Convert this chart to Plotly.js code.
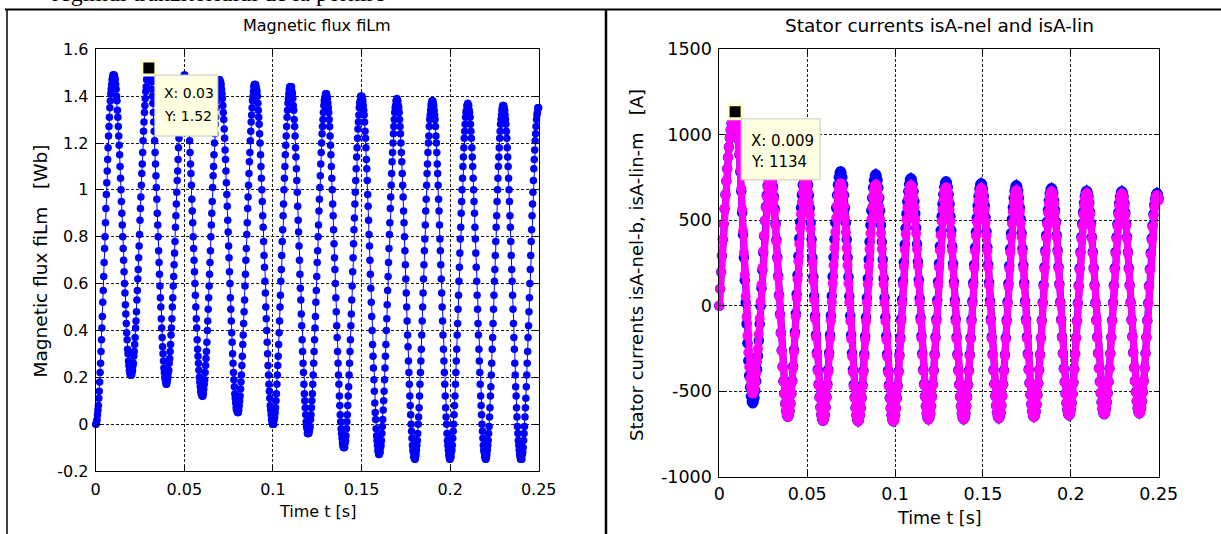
<!DOCTYPE html>
<html>
<head>
<meta charset="utf-8">
<script src="https://cdn.plot.ly/plotly-3.0.1.min.js"></script>
<style>
html, body { margin: 0; padding: 0; background: #fff; }
#fig { width: 1221px; height: 534px; }
</style>
</head>
<body>
<div id="fig"></div>
<script>
// Sampling steps of the simulated signals
const fluxDt = 0.00025;   // s
const currDt = 0.0005;    // s

// Magnetic flux fiLm [Wb], one row per half period
const fluxLm = [
  0, 0, 0.01, 0.02, 0.04, 0.06, 0.08, 0.11, 0.14, 0.18, 0.22, 0.26, 0.31, 0.36, 0.41, 0.46, 0.52, 0.57, 0.63, 0.69, 0.75, 0.80, 0.86, 0.92, 0.98, 1.03, 1.08, 1.13, 1.18, 1.23, 1.27, 1.31, 1.35, 1.38, 1.41, 1.43, 1.45, 1.47, 1.48, 1.49, 1.49,
  1.49, 1.49, 1.48, 1.47, 1.45, 1.43, 1.40, 1.38, 1.34, 1.31, 1.27, 1.23, 1.19, 1.15, 1.10, 1.05, 1.00, 0.95, 0.90, 0.85, 0.80, 0.75, 0.70, 0.65, 0.60, 0.56, 0.51, 0.47, 0.43, 0.39, 0.36, 0.32, 0.30, 0.27, 0.25, 0.23, 0.22, 0.21, 0.21, 0.21,
  0.21, 0.22, 0.23, 0.25, 0.26, 0.29, 0.31, 0.34, 0.37, 0.41, 0.44, 0.48, 0.53, 0.57, 0.62, 0.66, 0.71, 0.76, 0.81, 0.87, 0.92, 0.97, 1.02, 1.07, 1.11, 1.16, 1.21, 1.25, 1.29, 1.33, 1.36, 1.39, 1.42, 1.44, 1.47, 1.48, 1.50, 1.51, 1.51, 1.52,
  1.52, 1.51, 1.51, 1.50, 1.48, 1.46, 1.43, 1.40, 1.37, 1.33, 1.29, 1.25, 1.21, 1.16, 1.11, 1.06, 1.01, 0.96, 0.90, 0.85, 0.80, 0.74, 0.69, 0.64, 0.59, 0.54, 0.50, 0.45, 0.41, 0.37, 0.33, 0.30, 0.27, 0.24, 0.22, 0.20, 0.19, 0.18, 0.17, 0.17,
  0.18, 0.19, 0.20, 0.22, 0.23, 0.26, 0.28, 0.31, 0.34, 0.38, 0.41, 0.45, 0.50, 0.54, 0.59, 0.63, 0.68, 0.73, 0.78, 0.84, 0.89, 0.94, 0.99, 1.04, 1.08, 1.13, 1.18, 1.22, 1.26, 1.30, 1.33, 1.36, 1.39, 1.41, 1.44, 1.45, 1.47, 1.48, 1.48, 1.49,
  1.49, 1.48, 1.47, 1.45, 1.43, 1.41, 1.39, 1.36, 1.32, 1.29, 1.25, 1.21, 1.16, 1.11, 1.07, 1.02, 0.96, 0.91, 0.86, 0.80, 0.75, 0.70, 0.65, 0.60, 0.55, 0.50, 0.45, 0.41, 0.36, 0.32, 0.29, 0.26, 0.23, 0.20, 0.18, 0.16, 0.14, 0.13, 0.13, 0.12,
  0.12, 0.12, 0.13, 0.15, 0.17, 0.19, 0.22, 0.25, 0.28, 0.31, 0.35, 0.40, 0.44, 0.49, 0.54, 0.59, 0.64, 0.69, 0.74, 0.80, 0.85, 0.90, 0.95, 1.01, 1.06, 1.10, 1.15, 1.20, 1.24, 1.28, 1.31, 1.35, 1.38, 1.40, 1.42, 1.44, 1.46, 1.47, 1.47, 1.47,
  1.46, 1.46, 1.45, 1.43, 1.41, 1.39, 1.36, 1.33, 1.30, 1.26, 1.22, 1.17, 1.13, 1.08, 1.03, 0.98, 0.93, 0.87, 0.82, 0.76, 0.71, 0.65, 0.60, 0.54, 0.49, 0.44, 0.39, 0.35, 0.30, 0.26, 0.22, 0.19, 0.16, 0.13, 0.11, 0.09, 0.07, 0.06, 0.06, 0.05,
  0.05, 0.05, 0.06, 0.08, 0.10, 0.12, 0.15, 0.18, 0.21, 0.25, 0.29, 0.34, 0.38, 0.43, 0.48, 0.53, 0.59, 0.64, 0.70, 0.75, 0.81, 0.86, 0.92, 0.97, 1.02, 1.07, 1.12, 1.16, 1.21, 1.25, 1.29, 1.32, 1.35, 1.38, 1.40, 1.42, 1.44, 1.45, 1.45, 1.45,
  1.45, 1.44, 1.43, 1.42, 1.40, 1.37, 1.34, 1.31, 1.28, 1.24, 1.20, 1.15, 1.10, 1.05, 1.00, 0.95, 0.89, 0.84, 0.78, 0.72, 0.67, 0.61, 0.56, 0.50, 0.45, 0.40, 0.35, 0.30, 0.25, 0.21, 0.17, 0.14, 0.11, 0.08, 0.06, 0.04, 0.02, 0.01, 0.00, 0.00,
  0.00, 0.00, 0.02, 0.03, 0.05, 0.07, 0.10, 0.13, 0.17, 0.21, 0.25, 0.29, 0.34, 0.39, 0.44, 0.50, 0.55, 0.61, 0.66, 0.72, 0.78, 0.83, 0.89, 0.94, 1.00, 1.05, 1.10, 1.15, 1.19, 1.23, 1.27, 1.31, 1.34, 1.37, 1.39, 1.41, 1.43, 1.44, 1.44, 1.44,
  1.44, 1.44, 1.42, 1.41, 1.39, 1.36, 1.34, 1.30, 1.27, 1.23, 1.18, 1.14, 1.09, 1.04, 0.99, 0.93, 0.87, 0.82, 0.76, 0.70, 0.64, 0.58, 0.53, 0.47, 0.42, 0.36, 0.31, 0.26, 0.22, 0.17, 0.13, 0.10, 0.07, 0.04, 0.01, -0.01, -0.02, -0.04, -0.04, -0.04,
  -0.04, -0.03, -0.02, -0.01, 0.02, 0.04, 0.07, 0.10, 0.13, 0.17, 0.21, 0.26, 0.31, 0.36, 0.41, 0.46, 0.52, 0.57, 0.63, 0.69, 0.74, 0.80, 0.85, 0.91, 0.96, 1.01, 1.06, 1.11, 1.16, 1.20, 1.24, 1.27, 1.30, 1.33, 1.36, 1.38, 1.39, 1.40, 1.41, 1.41,
  1.41, 1.40, 1.39, 1.37, 1.35, 1.33, 1.30, 1.27, 1.23, 1.19, 1.15, 1.10, 1.05, 1.00, 0.94, 0.89, 0.83, 0.77, 0.71, 0.66, 0.60, 0.54, 0.48, 0.42, 0.37, 0.31, 0.26, 0.21, 0.17, 0.12, 0.08, 0.04, 0.01, -0.02, -0.04, -0.06, -0.08, -0.09, -0.10, -0.10,
  -0.10, -0.10, -0.08, -0.07, -0.05, -0.02, 0.01, 0.04, 0.08, 0.12, 0.16, 0.21, 0.26, 0.31, 0.36, 0.42, 0.47, 0.53, 0.59, 0.65, 0.71, 0.77, 0.83, 0.88, 0.94, 0.99, 1.04, 1.09, 1.14, 1.18, 1.22, 1.26, 1.29, 1.32, 1.35, 1.37, 1.38, 1.40, 1.40, 1.40,
  1.40, 1.39, 1.38, 1.36, 1.34, 1.32, 1.29, 1.25, 1.22, 1.18, 1.13, 1.09, 1.04, 0.98, 0.93, 0.87, 0.81, 0.76, 0.70, 0.64, 0.58, 0.52, 0.46, 0.40, 0.34, 0.29, 0.24, 0.19, 0.14, 0.09, 0.05, 0.02, -0.02, -0.05, -0.07, -0.09, -0.11, -0.12, -0.13, -0.13,
  -0.12, -0.12, -0.10, -0.09, -0.07, -0.04, -0.01, 0.02, 0.06, 0.10, 0.14, 0.19, 0.24, 0.29, 0.34, 0.40, 0.45, 0.51, 0.57, 0.63, 0.69, 0.75, 0.81, 0.86, 0.92, 0.97, 1.02, 1.07, 1.12, 1.16, 1.20, 1.24, 1.27, 1.30, 1.33, 1.35, 1.36, 1.38, 1.38, 1.39,
  1.38, 1.38, 1.36, 1.35, 1.33, 1.30, 1.27, 1.24, 1.20, 1.16, 1.12, 1.07, 1.02, 0.97, 0.91, 0.86, 0.80, 0.74, 0.68, 0.62, 0.56, 0.50, 0.44, 0.38, 0.33, 0.27, 0.22, 0.17, 0.12, 0.08, 0.04, 0.00, -0.03, -0.06, -0.09, -0.11, -0.12, -0.14, -0.14, -0.15,
  -0.15, -0.14, -0.13, -0.11, -0.09, -0.07, -0.04, 0.00, 0.03, 0.07, 0.12, 0.17, 0.22, 0.27, 0.32, 0.38, 0.44, 0.50, 0.56, 0.62, 0.68, 0.74, 0.79, 0.85, 0.91, 0.96, 1.02, 1.07, 1.11, 1.16, 1.20, 1.23, 1.27, 1.30, 1.32, 1.34, 1.36, 1.37, 1.38, 1.38,
  1.38, 1.37, 1.36, 1.34, 1.32, 1.30, 1.27, 1.23, 1.20, 1.16, 1.11, 1.07, 1.02, 0.96, 0.91, 0.85, 0.79, 0.74, 0.68, 0.62, 0.56, 0.50, 0.44, 0.38, 0.32, 0.27, 0.22, 0.17, 0.12, 0.07, 0.03, 0.00, -0.04, -0.07, -0.09, -0.11, -0.13, -0.14, -0.15, -0.15,
  -0.14, -0.14, -0.12, -0.11, -0.09, -0.06, -0.03, 0.00, 0.04, 0.08, 0.12, 0.17, 0.22, 0.27, 0.32, 0.38, 0.43, 0.49, 0.55, 0.61, 0.67, 0.73, 0.79, 0.84, 0.90, 0.95, 1.00, 1.05, 1.10, 1.14, 1.18, 1.22, 1.25, 1.28, 1.31, 1.33, 1.34, 1.36, 1.36, 1.37,
  1.36, 1.36, 1.34, 1.33, 1.31, 1.28, 1.25, 1.22, 1.18, 1.14, 1.10, 1.05, 1.00, 0.95, 0.90, 0.84, 0.79, 0.73, 0.67, 0.61, 0.55, 0.49, 0.43, 0.38, 0.32, 0.27, 0.22, 0.17, 0.12, 0.08, 0.04, 0.00, -0.03, -0.06, -0.09, -0.11, -0.12, -0.14, -0.14, -0.15,
  -0.15, -0.14, -0.13, -0.11, -0.09, -0.07, -0.04, -0.01, 0.03, 0.07, 0.12, 0.16, 0.21, 0.26, 0.32, 0.37, 0.43, 0.49, 0.55, 0.61, 0.66, 0.72, 0.78, 0.84, 0.89, 0.95, 1.00, 1.05, 1.10, 1.14, 1.18, 1.22, 1.25, 1.28, 1.30, 1.32, 1.34, 1.35, 1.36, 1.36,
  1.36, 1.35, 1.34, 1.32, 1.30, 1.28, 1.25, 1.22, 1.18, 1.14, 1.10, 1.05, 1.00, 0.95, 0.89, 0.84, 0.78, 0.72, 0.66, 0.61, 0.55, 0.49, 0.43, 0.37, 0.32, 0.26, 0.21, 0.16, 0.12, 0.07, 0.03, -0.01, -0.04, -0.07, -0.09, -0.11, -0.13, -0.14, -0.15, -0.15,
  -0.15, -0.15, -0.13, -0.12, -0.10, -0.07, -0.04, -0.01, 0.03, 0.07, 0.11, 0.16, 0.21, 0.26, 0.31, 0.37, 0.42, 0.48, 0.54, 0.60, 0.66, 0.72, 0.78, 0.83, 0.89, 0.94, 0.99, 1.04, 1.09, 1.13, 1.17, 1.21, 1.24, 1.27, 1.30, 1.32, 1.33, 1.35, 1.35, 1.35
];

// Stator current isA, nonlinear (saturated) model [A]
const isA_nel = [
  0, 99, 197, 293, 388, 479, 567, 650, 729, 802, 869, 929, 982, 1028, 1066, 1095, 1117, 1130, 1134,
  1124, 1093, 1041, 972, 885, 783, 669, 545, 416, 282, 149, 19, -105, -219, -321, -408, -477, -529, -560, -570,
  -562, -538, -497, -442, -373, -293, -203, -106, -3, 103, 208, 311, 408, 498, 578, 647, 702, 743, 767, 775,
  766, 741, 697, 639, 567, 481, 386, 283, 174, 63, -49, -158, -261, -356, -442, -514, -572, -616, -641, -650,
  -641, -615, -572, -513, -439, -355, -259, -154, -45, 68, 180, 289, 394, 490, 574, 648, 707, 750, 776, 785,
  776, 749, 706, 646, 571, 485, 387, 281, 170, 57, -58, -169, -275, -373, -459, -534, -594, -637, -664, -673,
  -664, -637, -593, -533, -459, -373, -275, -169, -57, 57, 171, 283, 389, 487, 573, 647, 707, 751, 778, 787,
  778, 751, 707, 647, 573, 486, 388, 282, 170, 56, -59, -171, -277, -375, -462, -536, -596, -640, -667, -676,
  -668, -641, -598, -538, -464, -379, -282, -177, -67, 47, 160, 270, 375, 472, 557, 631, 691, 734, 761, 769,
  761, 734, 691, 631, 557, 472, 375, 270, 160, 47, -67, -177, -282, -379, -464, -538, -598, -641, -668, -676,
  -668, -641, -599, -540, -468, -383, -288, -185, -77, 36, 147, 255, 358, 453, 538, 610, 669, 711, 738, 746,
  738, 712, 669, 611, 540, 456, 361, 259, 152, 42, -70, -177, -279, -374, -458, -529, -587, -630, -656, -664,
  -656, -630, -588, -531, -460, -377, -284, -183, -77, 33, 141, 247, 348, 441, 524, 595, 652, 694, 720, 728,
  720, 694, 652, 595, 524, 441, 348, 247, 141, 33, -77, -183, -284, -377, -460, -531, -588, -630, -656, -664,
  -656, -630, -588, -532, -462, -379, -287, -187, -82, 27, 135, 240, 340, 432, 515, 585, 641, 683, 709, 717,
  709, 683, 642, 586, 516, 434, 342, 242, 137, 30, -78, -183, -283, -375, -457, -527, -583, -624, -650, -658,
  -650, -624, -583, -528, -459, -377, -286, -187, -83, 24, 130, 234, 333, 424, 506, 575, 630, 671, 697, 705,
  697, 672, 631, 575, 507, 426, 335, 237, 134, 28, -79, -182, -280, -371, -452, -520, -576, -617, -642, -650,
  -642, -618, -577, -522, -454, -374, -285, -188, -85, 19, 123, 226, 323, 412, 492, 560, 615, 656, 680, 688,
  680, 656, 616, 561, 493, 414, 325, 229, 127, 24, -80, -182, -278, -367, -446, -514, -569, -609, -633, -641,
  -633, -609, -569, -516, -449, -370, -282, -187, -87, 16, 119, 219, 314, 402, 481, 548, 601, 641, 665, 673,
  665, 641, 602, 548, 482, 403, 316, 221, 121, 19, -83, -183, -278, -365, -444, -510, -564, -603, -627, -635,
  -627, -603, -564, -511, -444, -366, -279, -184, -85, 18, 120, 219, 314, 401, 479, 546, 599, 638, 662, 670,
  662, 639, 599, 546, 480, 402, 315, 221, 122, 21, -81, -180, -274, -361, -439, -505, -558, -598, -621, -629,
  -621, -598, -559, -506, -440, -364, -278, -184, -86, 15, 116, 214, 308, 394, 470, 536, 589, 628, 651, 659,
  651, 628
];

// Stator current isA, linear model [A]
const isA_lin = [
  0, 99, 197, 293, 388, 479, 567, 650, 729, 802, 869, 929, 982, 1028, 1066, 1095, 1117, 1130, 1134,
  1124, 1094, 1044, 977, 893, 794, 684, 564, 439, 310, 181, 55, -65, -175, -274, -358, -425, -475, -505, -515,
  -507, -484, -446, -393, -328, -252, -167, -75, 23, 123, 222, 320, 412, 497, 573, 638, 691, 729, 752, 760,
  751, 726, 683, 625, 554, 469, 375, 273, 165, 55, -55, -163, -265, -359, -444, -515, -573, -616, -641, -650,
  -641, -616, -574, -517, -446, -364, -271, -170, -64, 45, 154, 260, 361, 454, 536, 607, 664, 706, 731, 740,
  731, 705, 663, 605, 533, 449, 354, 252, 144, 34, -77, -185, -287, -382, -466, -538, -596, -638, -664, -673,
  -664, -639, -597, -540, -469, -387, -294, -193, -87, 22, 131, 237, 338, 431, 513, 584, 641, 683, 708, 717,
  708, 683, 641, 584, 513, 430, 337, 236, 130, 21, -89, -195, -296, -389, -472, -543, -600, -642, -667, -676,
  -668, -642, -601, -544, -473, -391, -298, -198, -92, 17, 125, 231, 331, 424, 506, 577, 634, 675, 701, 709,
  701, 675, 634, 577, 506, 424, 331, 231, 125, 17, -92, -198, -298, -391, -473, -544, -601, -642, -668, -676,
  -668, -642, -601, -544, -474, -391, -299, -199, -94, 15, 123, 228, 328, 420, 503, 573, 630, 671, 697, 705,
  697, 672, 630, 574, 505, 423, 331, 232, 128, 21, -87, -191, -290, -382, -464, -533, -589, -631, -656, -664,
  -656, -631, -590, -534, -465, -384, -294, -195, -92, 15, 121, 224, 323, 413, 494, 563, 619, 660, 685, 693,
  685, 660, 619, 563, 494, 413, 323, 224, 121, 15, -92, -195, -294, -384, -465, -534, -590, -631, -656, -664,
  -656, -631, -590, -535, -466, -385, -295, -197, -94, 12, 118, 221, 319, 409, 490, 559, 614, 655, 680, 688,
  680, 655, 615, 560, 491, 411, 321, 223, 120, 15, -90, -193, -291, -381, -461, -530, -585, -625, -650, -658,
  -650, -625, -585, -531, -463, -383, -294, -197, -95, 9, 113, 215, 312, 401, 481, 549, 603, 643, 668, 676,
  668, 644, 604, 549, 482, 403, 314, 218, 117, 13, -91, -192, -288, -377, -456, -523, -578, -618, -642, -650,
  -642, -618, -578, -524, -457, -378, -290, -194, -93, 10, 113, 214, 310, 398, 477, 544, 598, 638, 662, 670,
  662, 638, 599, 545, 478, 400, 312, 217, 117, 15, -88, -188, -283, -371, -449, -516, -570, -609, -633, -641,
  -633, -609, -570, -517, -451, -373, -286, -192, -93, 9, 111, 210, 304, 391, 469, 535, 588, 627, 651, 659,
  651, 627, 589, 535, 470, 392, 306, 212, 113, 12, -89, -188, -282, -368, -446, -511, -565, -603, -627, -635,
  -627, -603, -565, -512, -446, -369, -283, -189, -91, 11, 112, 210, 304, 390, 467, 533, 586, 624, 648, 656,
  648, 625, 586, 533, 468, 391, 305, 212, 114, 14, -87, -185, -278, -364, -441, -506, -559, -598, -621, -629,
  -621, -598, -560, -507, -442, -366, -281, -188, -91, 9, 109, 206, 299, 384, 460, 525, 578, 616, 639, 647,
  639, 616
];

// Data tips
const fluxTipX = [0.03];
const fluxTipY = [1.52];
const currTipX = [0.009];
const currTipY = [1134];

// Tick values and labels
const timeTicks = [0, 0.05, 0.1, 0.15, 0.2, 0.25];
const timeTickText = ['0', '0.05', '0.1', '0.15', '0.2', '0.25'];
const fluxTicks = [-0.2, 0, 0.2, 0.4, 0.6, 0.8, 1, 1.2, 1.4, 1.6];
const fluxTickText = ['-0.2', '0', '0.2', '0.4', '0.6', '0.8', '1', '1.2', '1.4', '1.6'];
const currTicks = [-1000, -500, 0, 500, 1000, 1500];
const currTickText = ['-1000', '-500', '0', '500', '1000', '1500'];

// Page geometry helpers (pixels -> paper fraction)
const W = 1221, H = 534;
const px = v => v / W;
const py = v => 1 - v / H;
const FONT = 'DejaVu Sans, Liberation Sans, Arial, sans-serif';
const SERIF = 'Liberation Serif, Times New Roman, serif';
const LEFT_FS = 16;     // text size in the flux figure
const RIGHT_FS = 17.5;  // text size in the current figure

function axisStyle(fs, standoff, extra) {
  return Object.assign({
    showline: true, linecolor: '#000', linewidth: 1, mirror: 'ticks',
    ticks: 'inside', ticklen: 5, tickwidth: 1, tickcolor: '#000',
    showgrid: true, gridcolor: '#1a1a1a', gridwidth: 1, griddash: '3px,2px',
    zeroline: false, tickmode: 'array', fixedrange: true,
    ticklabelstandoff: standoff,
    tickfont: {family: FONT, size: fs, color: '#000'}
  }, extra);
}

const traces = [
  {
    type: 'scatter', mode: 'lines+markers', x0: 0, dx: fluxDt, y: fluxLm,
    xaxis: 'x', yaxis: 'y', cliponaxis: false,
    line: {color: '#0000FF', width: 1},
    marker: {color: '#0000FF', size: 7.5, line: {width: 0}},
    hoverinfo: 'skip'
  },
  {
    type: 'scatter', mode: 'lines+markers', x0: 0, dx: currDt, y: isA_nel,
    xaxis: 'x2', yaxis: 'y2', cliponaxis: false,
    line: {color: '#0000FF', width: 7},
    marker: {color: '#0000FF', size: 10.5, line: {width: 0}},
    hoverinfo: 'skip'
  },
  {
    type: 'scatter', mode: 'lines+markers', x0: 0, dx: currDt, y: isA_lin,
    xaxis: 'x2', yaxis: 'y2', cliponaxis: false,
    line: {color: '#FF00FF', width: 7},
    marker: {color: '#FF00FF', size: 10, line: {width: 0}},
    hoverinfo: 'skip'
  },
  {
    type: 'scatter', mode: 'markers', x: fluxTipX, y: fluxTipY,
    xaxis: 'x', yaxis: 'y', cliponaxis: false,
    marker: {symbol: 'square', size: 14, color: '#000', line: {color: '#FFFFCC', width: 3}},
    hoverinfo: 'skip'
  },
  {
    type: 'scatter', mode: 'markers', x: currTipX, y: currTipY,
    xaxis: 'x2', yaxis: 'y2', cliponaxis: false,
    marker: {symbol: 'square', size: 14, color: '#000', line: {color: '#FFFFCC', width: 3}},
    hoverinfo: 'skip'
  }
];

function tipBox(xref, yref, x, y, w, h) {
  return {
    type: 'rect', xref: xref, yref: yref, xsizemode: 'pixel', ysizemode: 'pixel',
    xanchor: x, yanchor: y, x0: 6, x1: 6 + w, y0: -7, y1: -7 - h,
    fillcolor: '#FFFFE1', line: {color: '#C9C9B8', width: 1}, layer: 'above'
  };
}

function tipText(xref, yref, x, y, text, dx, dy, fs) {
  return {
    xref: xref, yref: yref, x: x, y: y, text: text, showarrow: false,
    xanchor: 'left', yanchor: 'middle', xshift: dx, yshift: dy,
    font: {family: FONT, size: fs, color: '#000'}
  };
}

function label(text, x, y, fs, opts) {
  return Object.assign({
    xref: 'paper', yref: 'paper', x: px(x), y: py(y), text: text, showarrow: false,
    xanchor: 'center', yanchor: 'middle',
    font: {family: FONT, size: fs, color: '#000'}
  }, opts || {});
}

const layout = {
  width: W, height: H,
  margin: {l: 0, r: 0, t: 0, b: 0, pad: 0},
  paper_bgcolor: '#fff', plot_bgcolor: '#fff',
  showlegend: false,
  xaxis: axisStyle(LEFT_FS, 4, {domain: [px(95.7), px(538.7)], range: [0, 0.25], tickvals: timeTicks, ticktext: timeTickText, anchor: 'y'}),
  yaxis: axisStyle(LEFT_FS, 3, {domain: [py(471), py(49.3)], range: [-0.2, 1.6], tickvals: fluxTicks, ticktext: fluxTickText, anchor: 'x'}),
  xaxis2: axisStyle(RIGHT_FS, 1, {domain: [px(719.3), px(1158.7)], range: [0, 0.25], tickvals: timeTicks, ticktext: timeTickText, anchor: 'y2'}),
  yaxis2: axisStyle(RIGHT_FS, 3, {domain: [py(476.7), py(49.3)], range: [-1000, 1500], tickvals: currTicks, ticktext: currTickText, anchor: 'x2'}),
  shapes: [
    // table frame
    {type: 'line', xref: 'paper', yref: 'paper', x0: px(5), x1: 1, y0: py(9.5), y1: py(9.5), line: {color: '#000', width: 2}},
    {type: 'line', xref: 'paper', yref: 'paper', x0: px(7), x1: px(7), y0: py(9.5), y1: 0, line: {color: '#000', width: 1.5}},
    {type: 'line', xref: 'paper', yref: 'paper', x0: px(606), x1: px(606), y0: py(9.5), y1: 0, line: {color: '#000', width: 2.5}},
    // data tip boxes
    tipBox('x', 'y', fluxTipX[0], fluxTipY[0], 63, 61),
    tipBox('x2', 'y2', currTipX[0], currTipY[0], 79, 61)
  ],
  annotations: [
    label('regimul tranzitoriului de la pornire', 50, 8, 24, {xanchor: 'left', yanchor: 'bottom', font: {family: SERIF, size: 24, color: '#000'}}),
    label('Magnetic flux fiLm', 317.2, 25, LEFT_FS),
    label('Stator currents isA-nel and isA-lin', 939, 25, 18.5),
    label('Time t [s]', 317.2, 511, LEFT_FS),
    label('Time t [s]', 939, 518, RIGHT_FS),
    label('Magnetic flux fiLm\u00a0\u00a0\u00a0[Wb]', 39.5, 261, 18.5, {textangle: -90}),
    label('Stator currents isA-nel-b, isA-lin-m\u00a0\u00a0\u00a0[A]', 636, 265, 18, {textangle: -90}),
    tipText('x', 'y', fluxTipX[0], fluxTipY[0], 'X: ' + fluxTipX[0], 13, -25, 14),
    tipText('x', 'y', fluxTipX[0], fluxTipY[0], 'Y: ' + fluxTipY[0], 13, -48, 14),
    tipText('x2', 'y2', currTipX[0], currTipY[0], 'X: ' + currTipX[0], 14, -29, 15),
    tipText('x2', 'y2', currTipX[0], currTipY[0], 'Y: ' + currTipY[0], 14, -50, 15)
  ]
};

Plotly.newPlot('fig', traces, layout, {staticPlot: true, displayModeBar: false});
</script>
</body>
</html>
